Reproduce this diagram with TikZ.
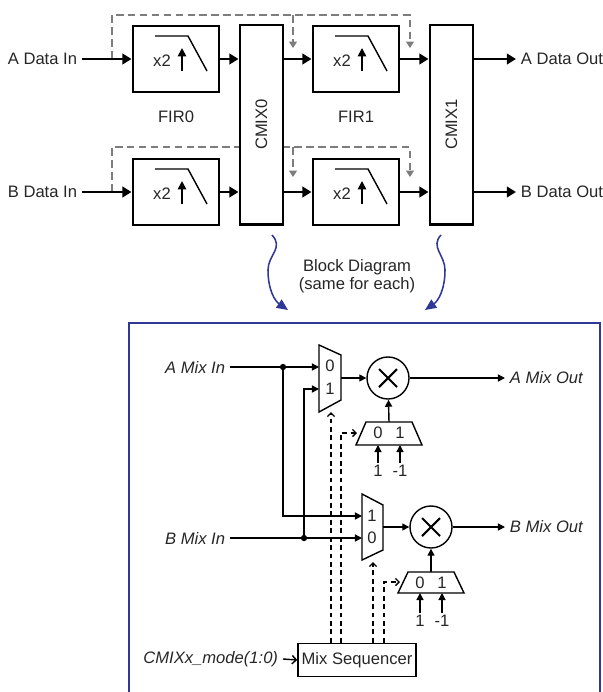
\documentclass[tikz,border=0pt]{standalone}
\usepackage{fontspec}
\setmainfont{Liberation Sans}
\usetikzlibrary{arrows.meta}
\definecolor{diagblue}{RGB}{46,56,150}
\definecolor{loopgray}{RGB}{125,125,125}
\begin{document}
\begin{tikzpicture}[x=0.025cm,y=-0.025cm,font=\fontsize{11.8}{13}\selectfont,text=black!85]
  \tikzstyle{block}=[draw,line width=2.1pt,fill=white,inner sep=0pt]
  \tikzstyle{filter}=[block,minimum width=2.15cm,minimum height=1.65cm]
  \tikzstyle{cmix}=[block,minimum width=1.075cm,minimum height=4.975cm]
  \tikzstyle{bus}=[line width=2.1pt,-{Triangle[length=6.5pt,width=7.5pt]}]
  \tikzstyle{loop}=[draw=loopgray,line width=1.8pt,dash pattern=on 5.5pt off 3pt,-{Triangle[length=4.5pt,width=5.5pt]}]
  \tikzstyle{wire}=[line width=1pt]
  \tikzstyle{sig}=[wire,-{Triangle[length=5pt,width=5pt]}]
  \tikzstyle{sel}=[wire,dash pattern=on 3.5pt off 2.5pt,-{Straight Barb[length=2.5pt,width=5pt]}]
  \tikzstyle{dot}=[circle,fill=black,inner sep=0pt,minimum size=4.5pt]
  \tikzstyle{port}=[inner sep=1.5pt]
  \tikzstyle{mixname}=[font=\fontsize{11.8}{13}\selectfont\itshape]
  \tikzstyle{mult}=[circle,draw,wire,minimum size=1.05cm,inner sep=0pt]
  \tikzstyle{curl}=[diagblue,line width=1.1pt,-{Triangle[length=8pt,width=7pt]}]
  \useasboundingbox (0,0) rectangle (603,692);
  % feedback loops (behind the blocks)
  \coordinate (tapA) at (112,59);
  \coordinate (tapB) at (112,192);
  \draw[loop] (tapA) -- (112,15) -- (410,15) -- (410,48);
  \draw[loop] (293,15) -- (293,48);
  \draw[loop] (tapB) -- (112,147) -- (410,147) -- (410,177);
  \draw[loop] (293,147) -- (293,177);
  % filters and mixers
  \node[filter] (firA0) at (176,59)  {};
  \node[filter] (firB0) at (176,192) {};
  \node[filter] (firA1) at (356,59)  {};
  \node[filter] (firB1) at (356,192) {};
  \node[cmix] (cmix0) at (261.5,124.5) {};
  \node[cmix] (cmix1) at (451.5,124.5) {};
  \node[rotate=90] (cmix0label) at (cmix0) {CMIX0};
  \node[rotate=90] (cmix1label) at (cmix1) {CMIX1};
  \node (fir0label) at (176,117) {FIR0};
  \node (fir1label) at (356,117) {FIR1};
  % filter icons
  \draw[wire] (firA0.center) +(-21,-23) -- +(12,-23) -- +(31,12);
  \draw[wire] (firB0.center) +(-21,-23) -- +(12,-23) -- +(31,12);
  \draw[wire] (firA1.center) +(-21,-23) -- +(12,-23) -- +(31,12);
  \draw[wire] (firB1.center) +(-21,-23) -- +(12,-23) -- +(31,12);
  \draw[line width=1.2pt,-{Triangle[length=6pt,width=6pt]}] (firA0.center) +(6,12) -- +(6,-11);
  \draw[line width=1.2pt,-{Triangle[length=6pt,width=6pt]}] (firB0.center) +(6,12) -- +(6,-11);
  \draw[line width=1.2pt,-{Triangle[length=6pt,width=6pt]}] (firA1.center) +(6,12) -- +(6,-11);
  \draw[line width=1.2pt,-{Triangle[length=6pt,width=6pt]}] (firB1.center) +(6,12) -- +(6,-11);
  \node (x2A0) at ([shift={(-14,2)}]firA0.center) {x2};
  \node (x2B0) at ([shift={(-14,2)}]firB0.center) {x2};
  \node (x2A1) at ([shift={(-14,2)}]firA1.center) {x2};
  \node (x2B1) at ([shift={(-14,2)}]firB1.center) {x2};
  % data in and out
  \node[anchor=east] (ain)  at (82,59)  {A Data In};
  \node[anchor=east] (bin)  at (82,192) {B Data In};
  \node[anchor=west] (aout) at (516,59)  {A Data Out};
  \node[anchor=west] (bout) at (516,192) {B Data Out};
  \draw[bus] (ain.east) -- (firA0.west);
  \draw[bus] (bin.east) -- (firB0.west);
  \draw[bus] (firA0.east) -- (firA0.east -| cmix0.west);
  \draw[bus] (firB0.east) -- (firB0.east -| cmix0.west);
  \draw[bus] (firA1.west -| cmix0.east) -- (firA1.west);
  \draw[bus] (firB1.west -| cmix0.east) -- (firB1.west);
  \draw[bus] (firA1.east) -- (firA1.east -| cmix1.west);
  \draw[bus] (firB1.east) -- (firB1.east -| cmix1.west);
  \draw[bus] (aout.west -| cmix1.east) -- (aout.west);
  \draw[bus] (bout.west -| cmix1.east) -- (bout.west);
  % pointers to the block diagram
  \node[align=center] (note) at (357,276) {Block Diagram\\(same for each)};
  \coordinate (from0) at (272,235);
  \coordinate (to0)   at (288,310);
  \coordinate (from1) at (441,235);
  \coordinate (to1)   at (425,310);
  \draw[curl] (from0) .. controls (284,248) and (268,255) .. (268,270) .. controls (268,290) and (275,301) .. (to0);
  \draw[curl] (from1) .. controls (430,247) and (445,255) .. (445,270) .. controls (445,290) and (438,301) .. (to1);
  \draw[diagblue,line width=1.5pt] (129,692) -- (129,323) -- (600,323) -- (600,692);
  % muxes
  \draw[wire] (319,345) -- (341,355) -- (341,400) -- (319,412) -- cycle;
  \draw[wire] (362,494) -- (383,505) -- (383,550) -- (362,560) -- cycle;
  \draw[wire] (366,422) -- (412,422) -- (422,445) -- (356,445) -- cycle;
  \draw[wire] (408,572) -- (454,572) -- (464,593) -- (398,593) -- cycle;
  \coordinate (muxA0) at (319,367);
  \coordinate (muxA1) at (319,389);
  \coordinate (muxAout) at (341,378);
  \coordinate (muxAsel) at (331,412);
  \coordinate (muxB1) at (362,516);
  \coordinate (muxB0) at (362,538);
  \coordinate (muxBout) at (383,527);
  \coordinate (muxBsel) at (373,562);
  \coordinate (smuxAout) at (389,422);
  \coordinate (smuxA0) at (378,445);
  \coordinate (smuxA1) at (400,445);
  \coordinate (smuxAsel) at (357,433);
  \coordinate (smuxBout) at (431,572);
  \coordinate (smuxB0) at (420,593);
  \coordinate (smuxB1) at (442,593);
  \coordinate (smuxBsel) at (400,582);
  \node[port] (muxA0label) at (330,366) {0};
  \node[port] (muxA1label) at (330,389) {1};
  \node[port] (muxB1label) at (372,516) {1};
  \node[port] (muxB0label) at (372,538) {0};
  \node[port] (smuxA0label) at (378,433) {0};
  \node[port] (smuxA1label) at (400,433) {1};
  \node[port] (smuxB0label) at (420,583) {0};
  \node[port] (smuxB1label) at (442,583) {1};
  % multipliers
  \node[mult] (multA) at (388,378) {};
  \node[mult] (multB) at (431,527) {};
  \draw[line width=1.5pt] (multA.center) +(-9,-9) -- +(9,9) (multA.center) +(-9,9) -- +(9,-9);
  \draw[line width=1.5pt] (multB.center) +(-9,-9) -- +(9,9) (multB.center) +(-9,9) -- +(9,-9);
  % constants
  \node[port] (oneA) at (378,471) {1};
  \node[port] (negA) at (400,471) {-1};
  \node[port] (oneB) at (420,621) {1};
  \node[port] (negB) at (442,621) {-1};
  \draw[sig] (oneA) -- (smuxA0);
  \draw[sig] (negA.north -| smuxA1) -- (smuxA1);
  \draw[sig] (oneB) -- (smuxB0);
  \draw[sig] (negB.north -| smuxB1) -- (smuxB1);
  % mix signals
  \node[mixname,anchor=east] (amixin) at (230,367) {A Mix In};
  \node[mixname,anchor=east] (bmixin) at (230,538) {B Mix In};
  \node[mixname,anchor=west] (amixout) at (505,378) {A Mix Out};
  \node[mixname,anchor=west] (bmixout) at (505,527) {B Mix Out};
  \node[dot] (splitA) at (283,367) {};
  \node[dot] (splitB) at (304,538) {};
  \draw[sig] (amixin.east) -- (muxA0);
  \draw[sig] (bmixin.east) -- (muxB0);
  \draw[sig] (splitA) |- (muxB1);
  \draw[sig] (splitB) |- (muxA1);
  \draw[sig] (muxAout) -- (multA);
  \draw[sig] (muxBout) -- (multB);
  \draw[sig] (smuxAout) -- (multA);
  \draw[sig] (smuxBout) -- (multB);
  \draw[sig] (multA) -- (amixout.west);
  \draw[sig] (multB) -- (bmixout.west);
  % sequencer
  \node[draw,wire,minimum width=2.95cm,minimum height=0.825cm,inner sep=0pt] (mixseq) at (357,660) {Mix Sequencer};
  \node[mixname,anchor=east] (mode) at (283,659) {CMIXx\_mode(1:0)};
  \draw[wire,-{Straight Barb[length=3pt,width=6pt]}] (mode.east) -- (mixseq.west);
  \coordinate (bendA) at (341,433);
  \coordinate (bendB) at (384,582);
  \draw[sel] (mixseq.north -| muxAsel) -- (muxAsel);
  \draw[sel] (mixseq.north -| bendA) -- (bendA) -- (smuxAsel);
  \draw[sel] (mixseq.north -| muxBsel) -- (muxBsel);
  \draw[sel] (mixseq.north -| bendB) -- (bendB) -- (smuxBsel);
\end{tikzpicture}
\end{document}
